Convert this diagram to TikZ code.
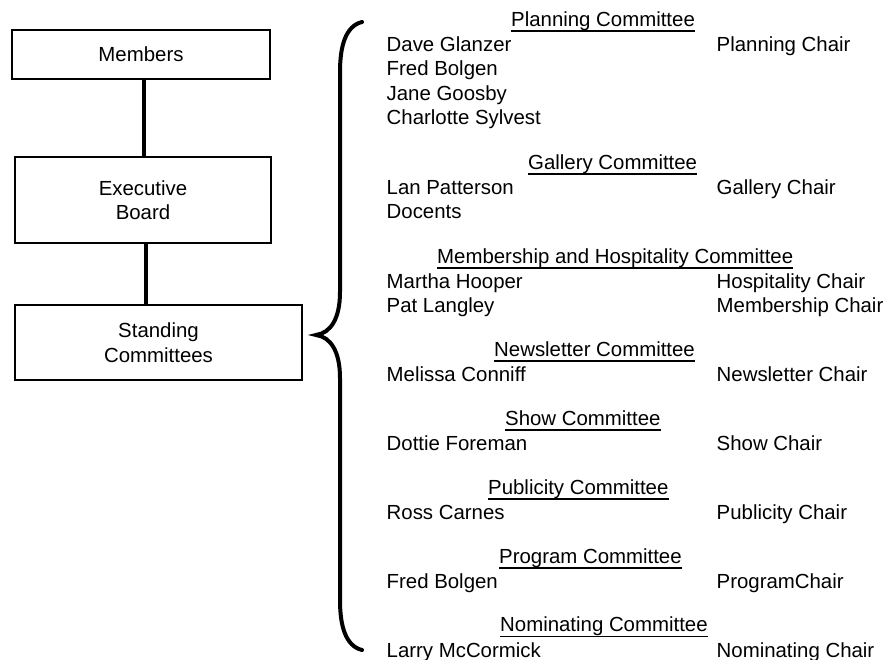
\documentclass[tikz,border=0pt]{standalone}
\usepackage{fontspec}
\setmainfont{Liberation Sans}
\begin{document}
\begin{tikzpicture}[x=1pt,y=-1pt,
  every node/.style={font=\fontsize{20.4}{24.5}\selectfont},
  box/.style={draw,line width=1.8pt,inner sep=0pt,align=center},
  link/.style={line width=4pt},
  brace/.style={line width=4pt,line cap=round},
  txt/.style={anchor=base west,inner sep=0pt},
  head/.style={anchor=base west,inner sep=0pt},
  uline/.style={line width=1.4pt}]
\useasboundingbox (0,0) rectangle (889,660);

% boxes
\node[box,minimum width=258pt,minimum height=49pt] (members) at (141,54.5) {\raisebox{-1.5pt}{Members}};
\node[box,minimum width=256pt,minimum height=86pt] (exec) at (143,200) {Executive\\Board};
\node[box,minimum width=287pt,minimum height=75pt] (standing) at (158.5,342.5) {Standing\\Committees};

\draw[link] ([xshift=3pt]members.south) -- ([xshift=1pt]exec.north);
\draw[link] ([xshift=3pt]exec.south) -- ([xshift=3pt]exec.south |- standing.north);

% brace
\coordinate (btop) at (362,22);
\coordinate (btip) at (316,335);
\coordinate (bbot) at (362,650);
\draw[brace] (btop) .. controls (346,26) and (340,45) .. (340,72) -- (340,292)
  .. controls (340,318) and (331,333) .. (btip)
  .. controls (331,337) and (340,352) .. (340,378) -- (340,600)
  .. controls (340,627) and (346,646) .. (bbot);

% headings
\node[head] (h1) at (511,26.3) {Planning Committee};
\node[head] (h2) at (528,169.3) {Gallery Committee};
\node[head] (h3) at (437,263.3) {Membership and Hospitality Committee};
\node[head] (h4) at (494,356.3) {Newsletter Committee};
\node[head] (h5) at (505,425.3) {Show Committee};
\node[head] (h6) at (488,494.3) {Publicity Committee};
\node[head] (h7) at (499,563.3) {Program Committee};
\node[head] (h8) at (500,631.5) {Nominating Committee};
\foreach \h in {h1,h2,h3,h4,h5,h6,h7,h8}
  \draw[uline] ([yshift=-4.8pt]\h.base west) -- ([yshift=-4.8pt]\h.base east);

% names
\node[txt] (n1) at (386.5,51.3) {Dave Glanzer};
\node[txt] (n2) at (386.5,75.8) {Fred Bolgen};
\node[txt] (n3) at (386.5,100.3) {Jane Goosby};
\node[txt] (n4) at (386.5,124.8) {Charlotte Sylvest};
\node[txt] (n5) at (386.5,194.3) {Lan Patterson};
\node[txt] (n6) at (386.5,218.8) {Docents};
\node[txt] (n7) at (386.5,288.3) {Martha Hooper};
\node[txt] (n8) at (386.5,312.8) {Pat Langley};
\node[txt] (n9) at (386.5,381.3) {Melissa Conniff};
\node[txt] (n10) at (386.5,450.3) {Dottie Foreman};
\node[txt] (n11) at (386.5,519.3) {Ross Carnes};
\node[txt] (n12) at (386.5,588.3) {Fred Bolgen};
\node[txt] (n13) at (386.5,657.3) {Larry McCormick};

% chairs
\node[txt] (c1) at (716.5,51.3) {Planning Chair};
\node[txt] (c2) at (716.5,194.3) {Gallery Chair};
\node[txt] (c3) at (716.5,288.3) {Hospitality Chair};
\node[txt] (c4) at (716.5,312.8) {Membership Chair};
\node[txt] (c5) at (716.5,381.3) {Newsletter Chair};
\node[txt] (c6) at (716.5,450.3) {Show Chair};
\node[txt] (c7) at (716.5,519.3) {Publicity Chair};
\node[txt] (c8) at (716.5,588.3) {ProgramChair};
\node[txt] (c9) at (716.5,657.3) {Nominating Chair};
\end{tikzpicture}
\end{document}
